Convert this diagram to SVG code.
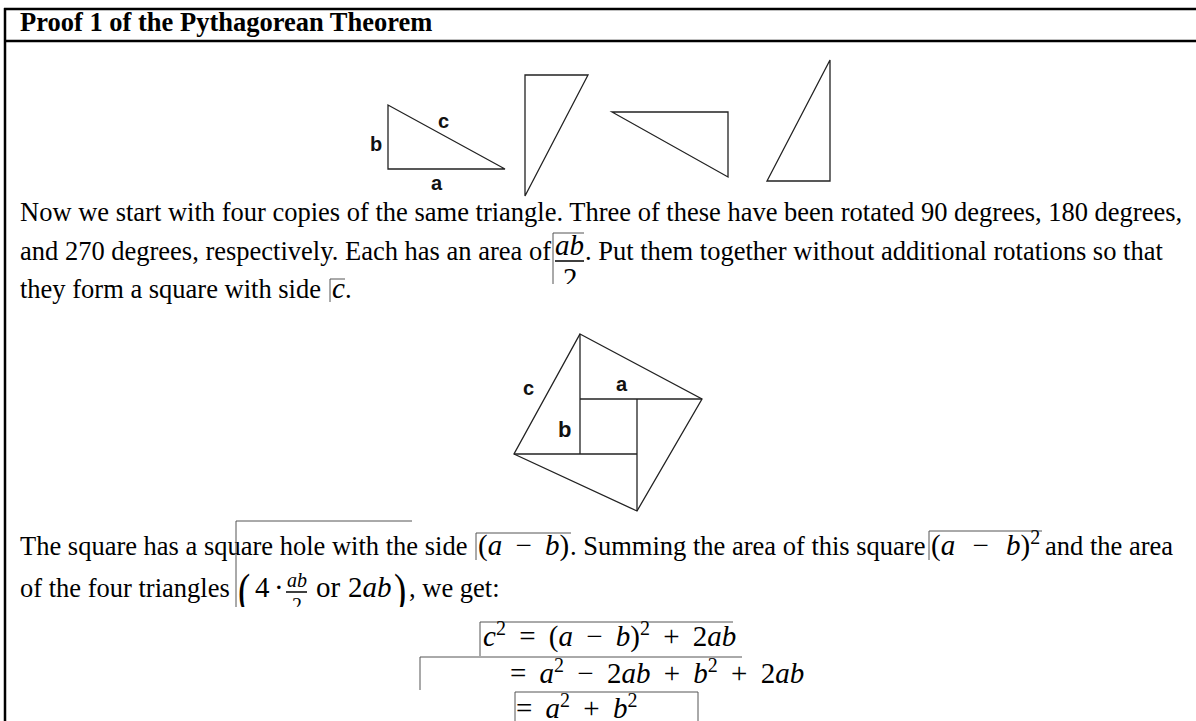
<svg xmlns="http://www.w3.org/2000/svg" width="1196" height="721" viewBox="0 0 1196 721">
<style>
.t{font-family:"Liberation Serif","Times New Roman",serif;font-size:26.5px;fill:#000}
.tb{font-weight:bold}
.m{font-family:"Liberation Serif","Times New Roman",serif;font-size:29px;fill:#000;word-spacing:6px}
.v{font-style:italic}
.sup{font-size:20px}
.sm{font-size:20px}
.big{font-size:46px}
.lbl{font-family:"Liberation Sans",Arial,sans-serif;font-size:20px;font-weight:bold;fill:#111}
.shape{fill:none;stroke:#222;stroke-width:1.3}
.frame{stroke:#000;stroke-width:2.5;fill:none}
.box{stroke:#555;stroke-width:1;fill:none}
.bar{stroke:#000;stroke-width:1.5}
</style>
<defs>
<clipPath id="clip2"><rect x="540" y="225" width="60" height="59"/></clipPath>
<clipPath id="clip5"><rect x="230" y="515" width="200" height="92"/></clipPath>
</defs>
<g id="frame">
<line class="frame" x1="4" y1="9" x2="1196" y2="9"/>
<line class="frame" x1="4" y1="41" x2="1196" y2="41"/>
<line class="frame" x1="5" y1="8" x2="5" y2="721"/>
</g>
<g id="title"><text class="t tb" x="20" y="31">Proof 1 of the Pythagorean Theorem</text></g>
<g id="triangles">
<polygon class="shape" points="388,105 388,169 505,169"/>
<text class="lbl" x="370" y="151">b</text>
<text class="lbl" x="438" y="128">c</text>
<text class="lbl" x="431" y="190">a</text>
<polygon class="shape" points="525,75 588,75 525,196"/>
<polygon class="shape" points="612,112 728,112 728,177"/>
<polygon class="shape" points="830,60 830,181 767,181"/>
</g>
<g id="para1">
<text class="t" x="20" y="221">Now we start with four copies of the same triangle. Three of these have been rotated 90 degrees, 180 degrees,</text>
<text class="t" x="20" y="260">and 270 degrees, respectively. Each has an area of</text>
<g id="frac1">
<line class="box" x1="553" y1="233" x2="553" y2="284"/>
<line class="box" x1="553" y1="233" x2="584" y2="233"/>
<text class="m v" x="555" y="255">ab</text>
<line class="bar" x1="555" y1="261" x2="584" y2="261"/>
<text class="m" x="563" y="288" clip-path="url(#clip2)">2</text>
</g>
<text class="t" x="585" y="260">. Put them together without additional rotations so that</text>
<text class="t" x="20" y="298">they form a square with side</text>
<line class="box" x1="330" y1="279" x2="330" y2="302"/>
<line class="box" x1="330" y1="279" x2="345" y2="279"/>
<text class="m v" x="332" y="298">c</text>
<text class="t" x="345" y="298">.</text>
</g>
<g id="square">
<polygon class="shape" points="580,334 702,399 637,511 514,454"/>
<line class="shape" x1="580" y1="334" x2="580" y2="454"/>
<line class="shape" x1="580" y1="399" x2="702" y2="399"/>
<line class="shape" x1="637" y1="399" x2="637" y2="511"/>
<line class="shape" x1="514" y1="454" x2="637" y2="454"/>
<text class="lbl" x="523" y="395">c</text>
<text class="lbl" x="616" y="391">a</text>
<text class="lbl" x="558" y="437" style="font-size:22px">b</text>
</g>
<g id="para2">
<text class="t" x="20" y="555">The square has a square hole with the side</text>
<line class="box" x1="476" y1="533" x2="476" y2="560"/>
<line class="box" x1="476" y1="533" x2="571" y2="533"/>
<text class="m" x="478" y="555">(<tspan class="v">a</tspan> − <tspan class="v">b</tspan>)</text>
<text class="t" x="570" y="555">. Summing the area of this square</text>
<line class="box" x1="929" y1="531" x2="929" y2="560"/>
<line class="box" x1="929" y1="531" x2="1042" y2="531"/>
<text class="m" x="931" y="555" style="word-spacing:10px">(<tspan class="v">a</tspan> − <tspan class="v">b</tspan>)<tspan class="sup" dy="-11">2</tspan></text>
<text class="t" x="1045" y="555">and the area</text>
<text class="t" x="20" y="597">of the four triangles</text>
<g id="paren">
<line class="box" x1="236" y1="521" x2="236" y2="607"/>
<line class="box" x1="236" y1="521" x2="412" y2="521"/>
<g clip-path="url(#clip5)">
<text class="m big" x="238" y="606" transform="translate(238,0) scale(0.8,1) translate(-238,0)">(</text>
<text class="m" x="255" y="597">4</text>
<text class="m" x="274" y="597">·</text>
<text class="m v sm" x="287" y="587">ab</text>
<line class="bar" x1="286" y1="592" x2="307" y2="592"/>
<text class="m sm" x="292" y="612">2</text>
<text class="m" x="316" y="597">or</text>
<text class="m" x="348" y="597">2<tspan class="v">ab</tspan></text>
<text class="m big" x="394" y="606" transform="translate(394,0) scale(0.8,1) translate(-394,0)">)</text>
</g>
</g>
<text class="t" x="409" y="597">, we get:</text>
</g>
<g id="equations">
<line class="box" x1="480" y1="622" x2="480" y2="656"/>
<line class="box" x1="480" y1="622" x2="733" y2="622"/>
<text class="m" x="483" y="646"><tspan class="v">c</tspan><tspan class="sup" dy="-11">2</tspan><tspan dy="11"> = (</tspan><tspan class="v">a</tspan> − <tspan class="v">b</tspan>)<tspan class="sup" dy="-11">2</tspan><tspan dy="11"> + 2</tspan><tspan class="v">ab</tspan></text>
<line class="box" x1="420" y1="657" x2="742" y2="657"/>
<line class="box" x1="420" y1="657" x2="420" y2="690"/>
<text class="m" x="510" y="683">= <tspan class="v">a</tspan><tspan class="sup" dy="-11">2</tspan><tspan dy="11"> − 2</tspan><tspan class="v">ab</tspan> + <tspan class="v">b</tspan><tspan class="sup" dy="-11">2</tspan><tspan dy="11"> + 2</tspan><tspan class="v">ab</tspan></text>
<line class="box" x1="515" y1="692" x2="515" y2="721"/>
<line class="box" x1="515" y1="692" x2="698" y2="692"/>
<line class="box" x1="698" y1="692" x2="698" y2="721"/>
<text class="m" x="516" y="718">= <tspan class="v">a</tspan><tspan class="sup" dy="-11">2</tspan><tspan dy="11"> + </tspan><tspan class="v">b</tspan><tspan class="sup" dy="-11">2</tspan></text>
</g>
</svg>
